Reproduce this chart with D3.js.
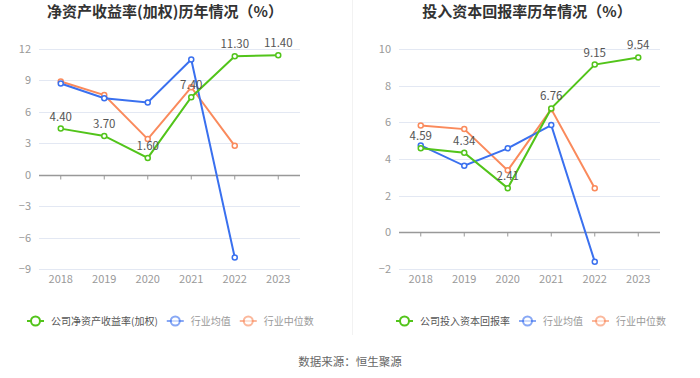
<!DOCTYPE html>
<html lang="zh">
<head>
<meta charset="UTF-8">
<title>历年情况</title>
<script src="https://cdn.jsdelivr.net/npm/d3@7"></script>
<style>
  body { margin: 0; background: #fff; }
  text { font-family: "Noto Sans CJK SC", "Noto Sans", sans-serif; }
</style>
</head>
<body>
<svg width="700" height="378"></svg>
<script>
const years = ["2018", "2019", "2020", "2021", "2022", "2023"];

// 净资产收益率(加权)
const roeCompany = [4.40, 3.70, 1.60, 7.40, 11.30, 11.40];
const roeAvg = [8.7, 7.3, 6.9, 11.0, -7.9];
const roeMedian = [8.9, 7.6, 3.4, 8.35, 2.76];
const roeTicks = [-9, -6, -3, 0, 3, 6, 9, 12];

// 投入资本回报率
const roicCompany = [4.59, 4.34, 2.41, 6.76, 9.15, 9.54];
const roicAvg = [4.74, 3.63, 4.58, 5.85, -1.6];
const roicMedian = [5.83, 5.63, 3.38, 6.72, 2.4];
const roicTicks = [-2, 0, 2, 4, 6, 8, 10];

const green = "#52c41a", blue = "#3a70ef", orange = "#fa8a5c";

const svg = d3.select("svg");

// divider between the two charts
svg.append("line")
    .attr("x1", 352.5).attr("x2", 352.5)
    .attr("y1", 0).attr("y2", 335)
    .attr("stroke", "#f2f2f2");

function drawChart(opt) {
    const g = svg.append("g");

    const x = d3.scaleBand().domain(years).range([opt.left, opt.right]);
    const y = d3.scaleLinear().domain(opt.domain).range([opt.bottom, opt.top]);
    const cx = d => x(d) + x.bandwidth() / 2;

    g.append("text")
        .attr("x", opt.titleX).attr("y", 17)
        .attr("text-anchor", "middle")
        .attr("font-size", 15).attr("font-weight", "bold")
        .attr("fill", "#333")
        .text(opt.title);

    // grid
    g.selectAll(".grid").data(opt.ticks.filter(t => t !== 0)).join("line")
        .attr("x1", opt.left).attr("x2", opt.right)
        .attr("y1", d => Math.round(y(d)) + 0.5).attr("y2", d => Math.round(y(d)) + 0.5)
        .attr("stroke", "#e3e8f3");

    const yAxis = g.append("g")
        .attr("transform", "translate(" + opt.left + ",0)")
        .call(d3.axisLeft(y).tickValues(opt.ticks).tickSize(0).tickPadding(8));
    yAxis.select(".domain").remove();
    yAxis.selectAll("text").attr("fill", "#999").attr("font-size", 11)
        .attr("font-family", "Noto Sans, sans-serif");

    // zero line with ticks
    const xAxis = g.append("g")
        .attr("transform", "translate(0," + (Math.round(y(0)) + 0.5) + ")")
        .call(d3.axisBottom(x).tickSize(4).tickFormat(""));
    xAxis.select(".domain").attr("stroke", "#999").attr("stroke-width", 1.5)
        .attr("d", "M" + opt.left + ",0H" + opt.right);
    xAxis.selectAll(".tick line").attr("stroke", "#999");

    g.selectAll(".yl").data(years).join("text")
        .attr("x", cx).attr("y", 283)
        .attr("text-anchor", "middle")
        .attr("font-size", 11).attr("fill", "#999")
        .attr("font-family", "Noto Sans, sans-serif")
        .text(d => d);

    const series = [
        { vals: opt.median, color: orange },
        { vals: opt.avg, color: blue },
        { vals: opt.company, color: green }
    ];
    const line = d3.line().x(d => cx(d.year)).y(d => y(d.v));
    series.forEach(s => {
        const pts = s.vals.map((v, i) => ({ year: years[i], v: v }));
        g.append("path").datum(pts)
            .attr("d", line)
            .attr("fill", "none")
            .attr("stroke", s.color).attr("stroke-width", 2);
        g.selectAll(null).data(pts).join("circle")
            .attr("cx", d => cx(d.year)).attr("cy", d => y(d.v))
            .attr("r", 2.5)
            .attr("fill", "#fff").attr("stroke", s.color).attr("stroke-width", 1.5);
    });

    g.selectAll(".lbl").data(opt.company).join("text")
        .attr("x", (d, i) => cx(years[i]))
        .attr("y", d => y(d) - 8)
        .attr("text-anchor", "middle")
        .attr("font-size", 11.5).attr("fill", "#555")
        .attr("font-family", "Noto Sans, sans-serif")
        .text(d => d.toFixed(2));

    // legend
    const items = [
        { name: opt.legendName, color: green, text: "#555" },
        { name: "行业均值", color: blue, text: "#999" },
        { name: "行业中位数", color: orange, text: "#999" }
    ];
    const lg = g.append("g").attr("transform", "translate(0,321)");
    let lx = opt.legendX;
    items.forEach((it, i) => {
        const op = i === 0 ? 1 : 0.6;
        lg.append("line").attr("x1", lx).attr("x2", lx + 17)
            .attr("stroke", it.color).attr("stroke-width", 2).attr("opacity", op);
        lg.append("circle").attr("cx", lx + 8.5).attr("cy", 0).attr("r", 4.5)
            .attr("fill", "#fff").attr("stroke", it.color).attr("stroke-width", 2)
            .attr("opacity", op);
        const t = lg.append("text").attr("x", lx + 24).attr("y", 3.5)
            .attr("font-size", 10).attr("fill", it.text)
            .text(it.name);
        lx += 24 + t.node().getComputedTextLength() + 9;
    });
}

drawChart({
    title: "净资产收益率(加权)历年情况（%）",
    titleX: 165,
    left: 39, right: 300, top: 49, bottom: 269,
    domain: [-9, 12], ticks: roeTicks,
    company: roeCompany, avg: roeAvg, median: roeMedian,
    legendName: "公司净资产收益率(加权)", legendX: 27
});

drawChart({
    title: "投入资本回报率历年情况（%）",
    titleX: 527,
    left: 399, right: 660, top: 49, bottom: 269,
    domain: [-2, 10], ticks: roicTicks,
    company: roicCompany, avg: roicAvg, median: roicMedian,
    legendName: "公司投入资本回报率", legendX: 396
});

svg.append("text")
    .attr("x", 350).attr("y", 366)
    .attr("text-anchor", "middle")
    .attr("font-size", 11.5).attr("fill", "#666")
    .text("数据来源：恒生聚源");
</script>
</body>
</html>
